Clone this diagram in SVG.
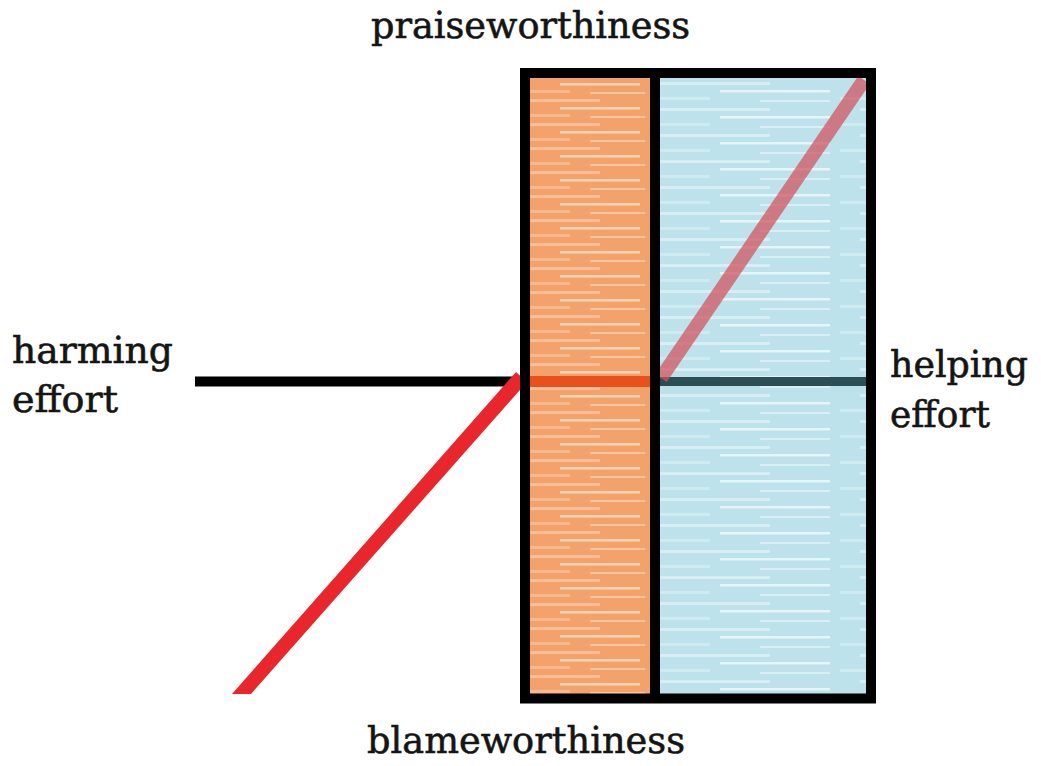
<svg xmlns="http://www.w3.org/2000/svg" width="1041" height="766" viewBox="0 0 1041 766">
<style>
.lbl{font-family:"DejaVu Serif","Liberation Serif",serif;font-size:38px;fill:#151515;stroke:#151515;stroke-width:0.6}
.frame{fill:none;stroke:#000;stroke-width:10}
</style>
<defs>
<pattern id="streakO" width="130" height="24" patternUnits="userSpaceOnUse">
<rect width="130" height="24" fill="#f4a26c"/>
<rect x="10" y="3" width="70" height="3" fill="#f8bf98"/>
<rect x="40" y="11" width="80" height="2.5" fill="#fad2b6"/>
<rect x="0" y="18" width="50" height="3" fill="#f7b88d"/>
<rect x="70" y="20" width="55" height="2" fill="#f8c6a3"/>
</pattern>
<pattern id="streakB" width="210" height="26" patternUnits="userSpaceOnUse">
<rect width="210" height="26" fill="#bde2eb"/>
<rect x="20" y="4" width="120" height="3" fill="#d6eef4"/>
<rect x="90" y="12" width="110" height="2.5" fill="#e6f5f9"/>
<rect x="0" y="19" width="80" height="3" fill="#cfebf2"/>
<rect x="130" y="22" width="70" height="2" fill="#d9eff5"/>
</pattern>
</defs>
<rect width="1041" height="766" fill="#fff"/>
<g id="columns">
<rect x="525" y="73" width="130" height="625" fill="url(#streakO)"/>
<rect x="655" y="73" width="216" height="625" fill="url(#streakB)"/>
</g>
<g id="connectors">
<line x1="195" y1="381.5" x2="525" y2="381.5" stroke="#000" stroke-width="10"/>
<line x1="525" y1="381.5" x2="655" y2="381.5" stroke="#e8501e" stroke-width="11"/>
<line x1="655" y1="381.5" x2="868" y2="381.5" stroke="#2c4e55" stroke-width="9"/>
<path d="M232,694 L251,694 L527,382 L516,372 Z" fill="#e8262b"/>
<line x1="661" y1="378" x2="864" y2="80" stroke="#d2505c" stroke-width="14" stroke-opacity="0.72"/>
</g>
<g id="frame">
<rect class="frame" x="525" y="73" width="346" height="625.5"/>
<line x1="655" y1="73" x2="655" y2="698" stroke="#000" stroke-width="10"/>
</g>
<g id="labels">
<text class="lbl" x="371" y="38" textLength="319" lengthAdjust="spacingAndGlyphs">praiseworthiness</text>
<text class="lbl" x="367" y="753" textLength="318" lengthAdjust="spacingAndGlyphs">blameworthiness</text>
<text class="lbl" x="12" y="363" textLength="161" lengthAdjust="spacingAndGlyphs">harming</text>
<text class="lbl" x="12" y="412" textLength="106" lengthAdjust="spacingAndGlyphs">effort</text>
<text class="lbl" x="890" y="377" textLength="138" lengthAdjust="spacingAndGlyphs">helping</text>
<text class="lbl" x="890" y="427" textLength="100" lengthAdjust="spacingAndGlyphs">effort</text>
</g>
</svg>
